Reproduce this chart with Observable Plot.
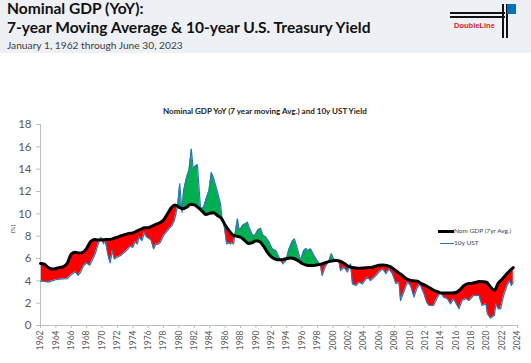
<!DOCTYPE html>
<html><head><meta charset="utf-8">
<script src="https://cdn.jsdelivr.net/npm/d3@7"></script>
<script src="https://cdn.jsdelivr.net/npm/@observablehq/plot@0.6"></script>
<style>
html,body{margin:0;padding:0;background:#fff;width:531px;height:363px;overflow:hidden;font-family:Lato,"Open Sans",sans-serif;}
#header{position:absolute;left:0;top:0;width:531px;height:53px;background:#edf0f4;}
.abs{position:absolute;white-space:nowrap;line-height:1;}
#t1,#t2{font-weight:700;color:#111;}
#sub{color:#404040;}
#ctitle{font-weight:700;color:#222;}
#chart{position:absolute;left:0;top:100px;}
.lg{position:absolute;height:0;}
.lgt{position:absolute;font-size:6.5px;color:#404040;white-space:nowrap;line-height:1;}
</style></head>
<body>
<div id="header">
  <span class="abs" id="t1" style="left:7px;top:1px;font-size:16px">Nominal GDP (YoY):</span>
  <span class="abs" id="t2" style="left:7px;top:20px;font-size:16px">7-year Moving Average &amp; 10-year U.S. Treasury Yield</span>
  <span class="abs" id="sub" style="left:7px;top:39.5px;font-size:10.5px">January 1, 1962 through June 30, 2023</span>
  <div style="position:absolute;left:450px;top:12px;width:55px;height:1.5px;background:#111"></div>
  <div style="position:absolute;left:450px;top:16px;width:55px;height:1.5px;background:#111"></div>
  <div style="position:absolute;left:502px;top:4px;width:1.5px;height:34px;background:#111"></div>
  <div style="position:absolute;left:506px;top:4px;width:1.5px;height:34px;background:#111"></div>
  <div style="position:absolute;left:507px;top:4px;width:9px;height:10px;background:#0070c0"></div>
  <span class="abs" style="left:454px;top:22px;font-size:7.5px;font-weight:700;color:#e0202a;font-family:Arial,'Liberation Sans',sans-serif">DoubleLine</span>
</div>
<span class="abs" id="ctitle" style="left:163px;top:107px;font-size:7.5px">Nominal GDP YoY (7 year moving Avg.) and 10y UST Yield</span>
<div id="chart"></div>
<span class="abs" style="left:9px;top:226px;font-size:6px;color:#404040;transform:rotate(-90deg);transform-origin:center;">(%)</span>
<div class="lg" style="left:438px;top:229.5px;width:16px;border-top:3px solid #000"></div>
<span class="lgt" style="left:454px;top:227.5px">Nom GDP (7yr Avg.)</span>
<div class="lg" style="left:440px;top:242.5px;width:14px;border-top:1.5px solid #2e75b6"></div>
<span class="lgt" style="left:454px;top:240px">10y UST</span>
<script>
// ---- data ----
const gdpYears = [1962,1962.5,1963,1963.5,1964,1964.5,1965,1965.5,1966,1966.5,1967,1967.5,1968,1968.5,1969,1969.5,1970,1970.5,1971,1971.5,1972,1972.5,1973,1973.5,1974,1974.5,1975,1975.5,1976,1976.5,1977,1977.5,1978,1978.5,1979,1979.5,1980,1980.5,1981,1981.5,1982,1982.5,1983,1983.5,1984,1984.5,1985,1985.5,1986,1986.5,1987,1987.5,1988,1988.5,1989,1989.5,1990,1990.5,1991,1991.5,1992,1992.5,1993,1993.5,1994,1994.5,1995,1995.5,1996,1996.5,1997,1997.5,1998,1998.5,1999,1999.5,2000,2000.5,2001,2001.5,2002,2002.5,2003,2003.5,2004,2004.5,2005,2005.5,2006,2006.5,2007,2007.5,2008,2008.5,2009,2009.5,2010,2010.5,2011,2011.5,2012,2012.5,2013,2013.5,2014,2014.5,2015,2015.5,2016,2016.5,2017,2017.5,2018,2018.5,2019,2019.5,2020,2020.5,2021,2021.5,2022,2022.5,2023,2023.45];
const gdpVals = [5.55,5.5,5.2,5.05,5.1,5.2,5.28,5.6,6.4,6.55,6.5,6.55,6.9,7.5,7.7,7.65,7.65,7.7,7.7,7.8,7.9,8.05,8.15,8.25,8.3,8.45,8.6,8.75,8.75,8.9,9.05,9.2,9.45,10.0,10.55,10.8,10.6,10.45,10.6,10.85,10.8,10.55,10.25,9.95,10.05,10.1,9.85,9.6,9.0,8.5,8.1,8.0,7.9,7.65,7.35,7.4,7.6,7.5,7.1,6.55,6.15,5.95,5.88,5.9,6.0,6.05,5.98,5.8,5.55,5.42,5.37,5.38,5.43,5.5,5.62,5.72,5.8,5.82,5.75,5.55,5.3,5.2,5.15,5.13,5.15,5.18,5.2,5.28,5.4,5.42,5.38,5.25,5.0,4.75,4.5,4.2,4.05,4.0,3.97,3.75,3.6,3.4,3.2,3.05,2.92,2.9,2.9,2.9,2.95,3.2,3.55,3.75,3.77,3.85,3.94,3.92,3.85,3.45,3.15,3.8,4.15,4.55,4.9,5.18];
const ustYears = [1962,1962.5,1963,1963.5,1964,1964.5,1965,1965.5,1966,1966.5,1966.9,1967.2,1967.6,1968,1968.4,1968.7,1969.1,1969.5,1969.8,1970,1970.2,1970.4,1970.75,1971.05,1971.35,1971.6,1971.9,1972.1,1972.5,1973,1973.3,1973.65,1974,1974.3,1974.6,1974.8,1975.2,1975.5,1975.8,1976.1,1976.4,1976.7,1977,1977.2,1977.6,1978,1978.4,1978.7,1979.1,1979.4,1979.8,1980.1,1980.4,1980.6,1981,1981.3,1981.6,1981.85,1982.15,1982.4,1982.8,1983.2,1983.6,1983.9,1984.2,1984.45,1984.95,1985.4,1985.6,1985.8,1986.05,1986.2,1986.5,1986.7,1986.9,1987.1,1987.4,1987.6,1987.8,1988,1988.25,1988.6,1988.9,1989.1,1989.5,1989.8,1990.25,1990.6,1990.9,1991.3,1991.7,1992.1,1992.6,1993,1993.5,1993.9,1994.3,1994.75,1995,1995.4,1995.8,1996.2,1996.5,1996.7,1997.1,1997.55,1997.95,1998.4,1998.6,1999,1999.5,1999.8,2000.1,2000.8,2001,2001.45,2001.9,2002.3,2002.55,2003,2003.4,2003.85,2004.5,2004.9,2005.6,2006,2006.5,2006.9,2007.3,2007.75,2008.2,2008.6,2008.8,2009.3,2009.7,2010.1,2010.55,2010.9,2011.3,2011.85,2012.2,2012.5,2013.1,2013.6,2014,2014.4,2014.9,2015.3,2015.7,2016.4,2016.8,2017.3,2017.7,2018.3,2019,2019.4,2019.9,2020.1,2020.5,2021,2021.2,2021.5,2021.8,2022.2,2022.65,2023,2023.2,2023.45];
const ustVals = [3.97,3.95,3.88,4.0,4.1,4.15,4.18,4.2,4.55,4.8,4.5,4.75,5.35,5.6,5.4,5.8,6.4,7.3,7.85,7.8,7.3,7.7,6.4,5.6,6.7,5.95,6.1,6.15,6.3,6.6,6.8,7.1,7.0,7.5,7.3,7.9,7.6,8.3,7.9,7.8,7.6,6.86,7.3,7.25,7.46,8.06,8.4,8.65,8.95,9.4,10.6,12.7,10.15,12.1,13.3,13.9,15.8,14.0,14.3,14.4,10.45,10.6,11.5,12.1,13.7,13.3,12.1,10.9,9.6,9.25,8.06,7.3,7.4,7.3,7.4,7.3,8.7,9.55,8.65,8.65,8.95,9.1,9.25,8.8,8.2,8.0,8.55,8.7,8.1,7.9,7.5,6.9,6.7,6.1,5.52,5.82,6.86,7.6,7.75,6.86,5.82,6.7,6.9,6.7,6.86,6.26,5.82,5.37,4.48,5.22,5.82,6.42,5.97,5.67,4.92,5.22,4.78,5.52,3.73,3.58,3.88,3.73,4.33,4.03,4.48,4.78,5.07,4.63,5.07,4.63,3.73,3.88,2.24,3.13,3.88,3.58,2.54,3.28,3.73,2.84,2.09,1.79,1.79,2.54,2.98,2.54,2.39,1.94,2.39,1.49,2.24,2.39,2.24,2.69,2.69,1.79,1.94,1.04,0.66,0.9,1.94,1.49,1.49,2.69,3.58,4.03,3.58,3.88];
const xTicks = d3.range(1962, 2025, 2);
const yTicks = d3.range(0, 19, 2);

// ---- build tables ----
const gdp = gdpYears.map((t, i) => ({year: t, v: gdpVals[i]}));
const ust = ustYears.map((t, i) => ({year: t, v: ustVals[i]}));
function interp(xs, ys, x) {
  let i = d3.bisectRight(xs, x);
  if (i <= 0) return ys[0];
  if (i >= xs.length) return ys[ys.length - 1];
  const x0 = xs[i - 1], x1 = xs[i];
  return ys[i - 1] + (ys[i] - ys[i - 1]) * (x - x0) / (x1 - x0);
}
const grid = Array.from(new Set([...gdpYears, ...ustYears])).sort((a, b) => a - b);
const pts = grid.map(t => ({year: t, g: interp(gdpYears, gdpVals, t), u: interp(ustYears, ustVals, t)}));
const merged = [];
for (let i = 0; i < pts.length; i++) {
  if (i > 0) {
    const a = pts[i - 1], b = pts[i];
    const da = a.u - a.g, db = b.u - b.g;
    if (da * db < 0) {
      const f = da / (da - db);
      const t = a.year + f * (b.year - a.year);
      const g = a.g + f * (b.g - a.g);
      merged.push({year: t, g, u: g});
    }
  }
  merged.push(pts[i]);
}

const chart = Plot.plot({
  width: 531, height: 263,
  marginLeft: 40, marginRight: 14, marginTop: 24, marginBottom: 38,
  style: {fontFamily: "Lato, 'Open Sans', sans-serif", color: "#595959", background: "transparent", overflow: "visible"},
  x: {domain: [1962, 2024], label: null},
  y: {domain: [0, 18], label: null},
  marks: [
    Plot.areaY(merged, {x: "year", y1: "g", y2: d => Math.max(d.g, d.u), fill: "#00b050"}),
    Plot.areaY(merged, {x: "year", y1: d => Math.min(d.g, d.u), y2: "g", fill: "#ff0000"}),
    Plot.ruleY([0], {stroke: "#bfbfbf", strokeWidth: 1}),
    Plot.ruleX([1962], {stroke: "#bfbfbf", strokeWidth: 1}),
    Plot.axisX({ticks: xTicks, tickFormat: d => String(d), tickRotate: -90, tickSize: 3, tickPadding: 2, fontSize: 8.5, stroke: "#bfbfbf", color: "#595959"}),
    Plot.axisY({ticks: yTicks, tickSize: 4, tickPadding: 5, fontSize: 11.5, stroke: "#bfbfbf"}),
    Plot.lineY(ust, {x: "year", y: "v", stroke: "#2e75b6", strokeWidth: 1.2}),
    Plot.lineY(gdp, {x: "year", y: "v", stroke: "#000", strokeWidth: 3, curve: "monotone-x"})
  ]
});
document.getElementById("chart").appendChild(chart);

// fit header texts to the widths measured in the reference
function fit(id, w) {
  const el = document.getElementById(id);
  const fs = parseFloat(el.style.fontSize);
  const cw = el.getBoundingClientRect().width;
  el.style.fontSize = (fs * w / cw) + "px";
  return fs * w / cw;
}
const tfs = fit("t2", 364);
document.getElementById("t1").style.fontSize = tfs + "px";
fit("sub", 176);
fit("ctitle", 204);
</script>
</body></html>
